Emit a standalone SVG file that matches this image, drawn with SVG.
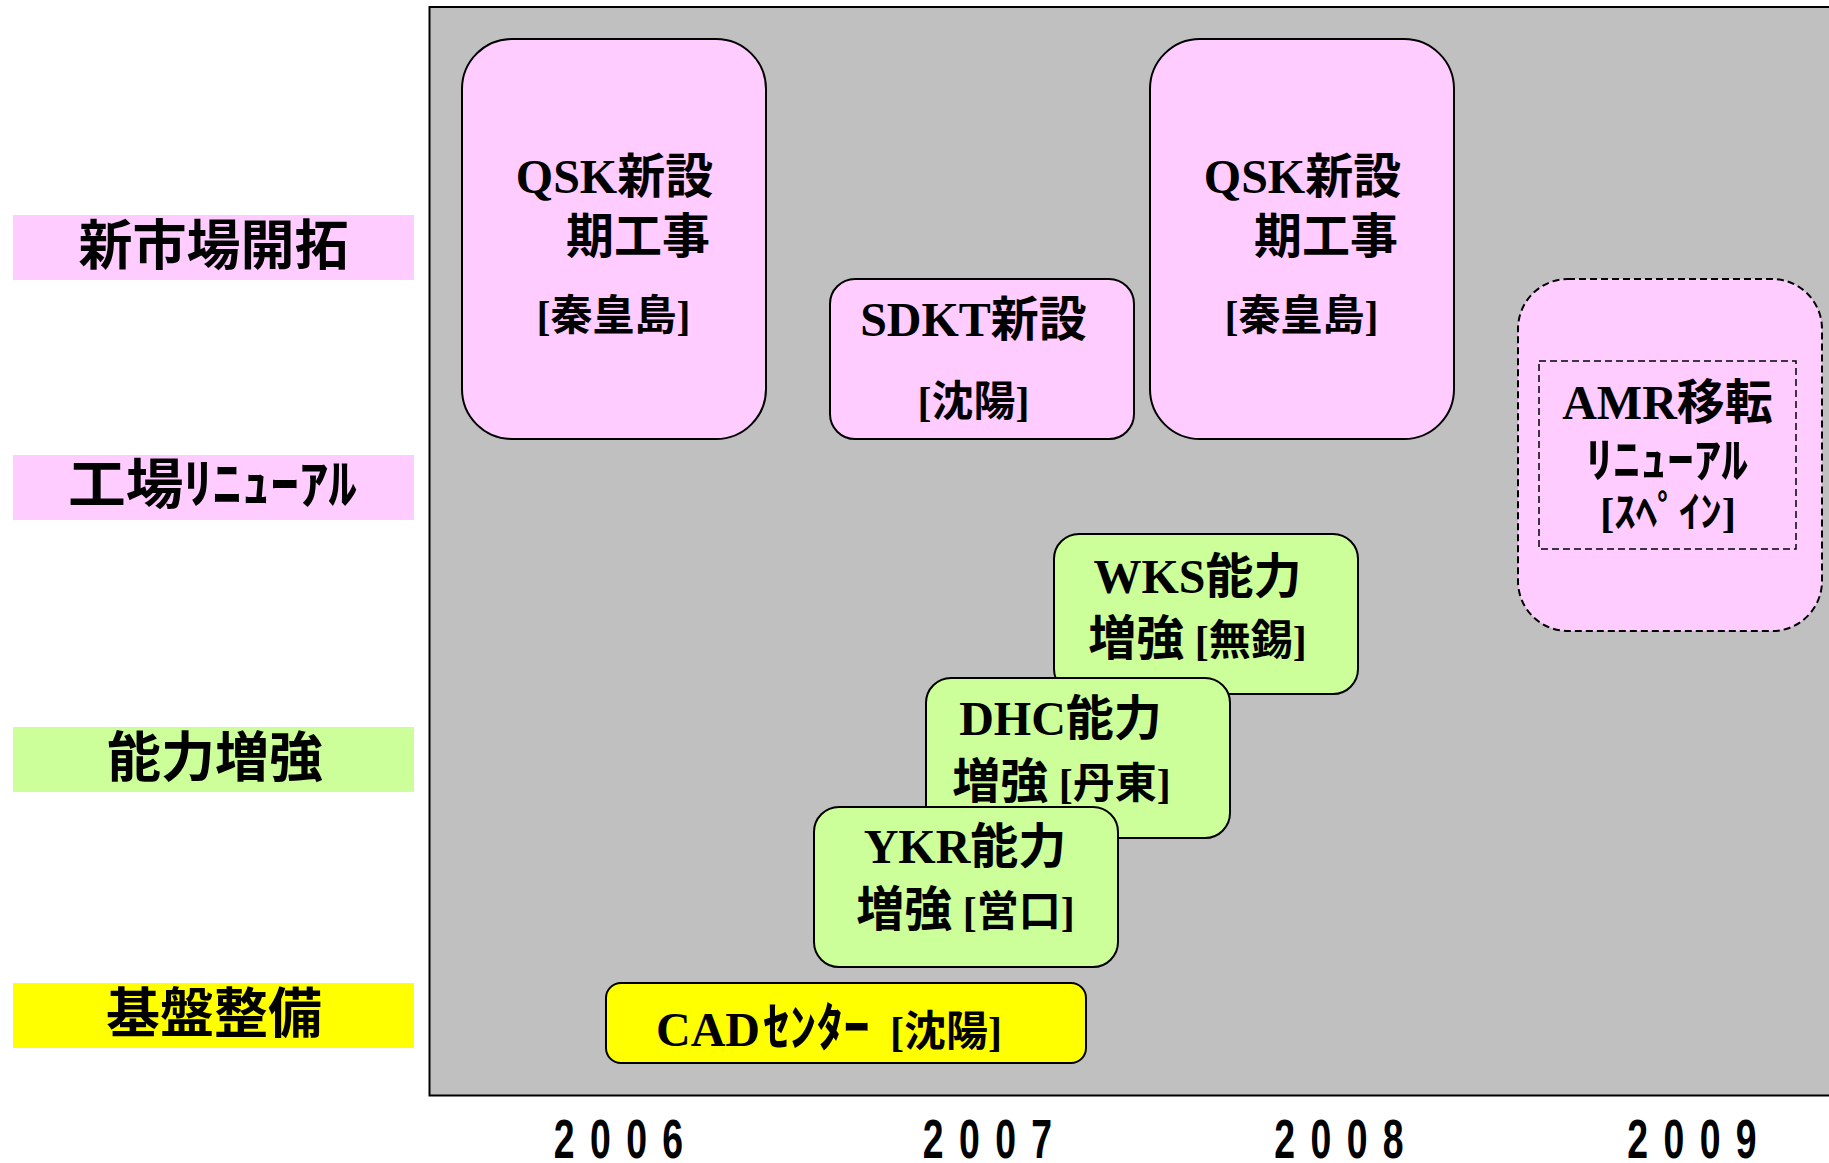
<svg xmlns="http://www.w3.org/2000/svg" width="1829" height="1163" viewBox="0 0 1829 1163">
<style>
.lbl{font-family:'Noto Sans CJK JP',sans-serif;font-weight:bold;font-size:54px;text-anchor:middle;fill:#000}
.t{font-family:'Liberation Serif','Noto Sans CJK JP',serif;font-weight:bold;font-size:48px;fill:#000}
.m{text-anchor:middle}
.s{font-size:42px}
.box{stroke:#000;stroke-width:2}
.pink{fill:#FFCCFF}.green{fill:#CCFF99}.yellow{fill:#FFFF00}
.dash{stroke-dasharray:7 4}
.yr{font-family:'Liberation Sans',sans-serif;font-weight:bold;font-size:55px;text-anchor:middle;fill:#000}
</style>
<rect width="1829" height="1163" fill="#fff"/>
<g id="labels">
<g id="label-shinshijo"><rect x="13" y="215" width="401" height="65" class="pink"/><text class="lbl" x="213.5" y="265">新市場開拓</text></g>
<g id="label-renewal"><rect x="13" y="455" width="401" height="65" class="pink"/><text class="lbl" x="212.5" y="504" textLength="289" lengthAdjust="spacingAndGlyphs">工場ﾘﾆｭｰｱﾙ</text></g>
<g id="label-noryoku"><rect x="13" y="727" width="401" height="65" class="green"/><text class="lbl" x="215" y="777">能力増強</text></g>
<g id="label-kiban"><rect x="13" y="983" width="401" height="65" class="yellow"/><text class="lbl" x="214" y="1033">基盤整備</text></g>
</g>
<g id="panel"><rect x="429.5" y="7" width="1410" height="1088.5" fill="#C0C0C0" stroke="#000" stroke-width="2"/></g>
<g id="connectors"></g>
<g id="qsk1"><rect x="462" y="39" width="304" height="400" rx="50" class="box pink"/>
<text class="t m" x="614.5" y="193">QSK新設</text>
<text class="t" x="566" y="253">期工事</text>
<text class="t s m" x="613.5" y="330">[秦皇島]</text></g>
<g id="sdkt"><rect x="830" y="279" width="304" height="160" rx="25" class="box pink"/>
<text class="t m" x="973.5" y="336">SDKT新設</text>
<text class="t s m" x="973.5" y="416">[沈陽]</text></g>
<g id="qsk2"><rect x="1150" y="39" width="304" height="400" rx="50" class="box pink"/>
<text class="t m" x="1302.5" y="193">QSK新設</text>
<text class="t" x="1254" y="253">期工事</text>
<text class="t s m" x="1301.5" y="330">[秦皇島]</text></g>
<g id="amr"><rect x="1518" y="279" width="304" height="352" rx="50" class="box pink dash"/>
<rect x="1539" y="361" width="257" height="188" fill="none" stroke="#000" stroke-width="1.5" class="dash"/>
<text class="t m" x="1667.5" y="419">AMR移転</text>
<text class="t m" x="1667" y="477" font-size="50" textLength="162" lengthAdjust="spacingAndGlyphs">ﾘﾆｭｰｱﾙ</text>
<text class="t s m" x="1668" y="527" textLength="136" lengthAdjust="spacingAndGlyphs">[ｽﾍﾟｲﾝ]</text></g>
<g id="wks"><rect x="1054" y="534" width="304" height="160" rx="25" class="box green"/>
<text class="t m" x="1197.5" y="593">WKS能力</text>
<text class="t m" x="1197.5" y="655">増強<tspan class="s"> [無錫]</tspan></text></g>
<g id="dhc"><rect x="926" y="678" width="304" height="160" rx="25" class="box green"/>
<text class="t m" x="1060.5" y="735">DHC能力</text>
<text class="t m" x="1061.5" y="798">増強<tspan class="s"> [丹東]</tspan></text></g>
<g id="ykr"><rect x="814" y="807" width="304" height="160" rx="25" class="box green"/>
<text class="t m" x="965" y="863">YKR能力</text>
<text class="t m" x="965.5" y="926">増強<tspan class="s"> [営口]</tspan></text></g>
<g id="cad"><rect x="606" y="983" width="480" height="80" rx="15" class="box yellow"/>
<text class="t" y="1046"><tspan x="656">CAD</tspan><tspan x="763" font-size="52" textLength="107" lengthAdjust="spacingAndGlyphs">ｾﾝﾀｰ</tspan><tspan x="890" class="s">[沈陽]</tspan></text></g>
<g id="years">
<text class="yr" transform="translate(618.5,1158) scale(0.68,1)"><tspan x="-79.8 -26.6 26.6 79.8">2006</tspan></text>
<text class="yr" transform="translate(987.5,1158) scale(0.68,1)"><tspan x="-79.8 -26.6 26.6 79.8">2007</tspan></text>
<text class="yr" transform="translate(1339,1158) scale(0.68,1)"><tspan x="-79.8 -26.6 26.6 79.8">2008</tspan></text>
<text class="yr" transform="translate(1692,1158) scale(0.68,1)"><tspan x="-79.8 -26.6 26.6 79.8">2009</tspan></text>
</g>
</svg>
